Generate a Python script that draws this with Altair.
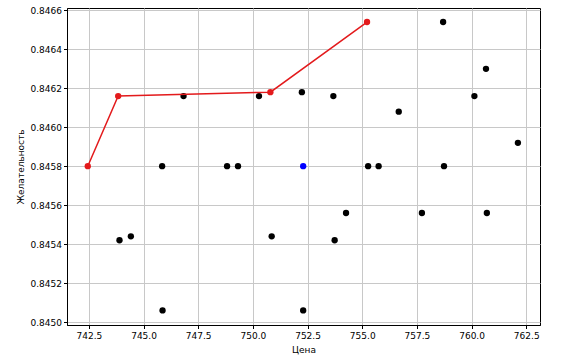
import altair as alt
import pandas as pd

# Black points
black_x = [745.85, 746.83, 748.82, 749.32, 750.28, 752.24, 753.68, 756.67, 758.70,
           760.66, 760.13, 762.12, 755.27, 755.75, 758.74, 743.90, 744.42, 745.87,
           750.86, 752.30, 754.26, 753.74, 757.73, 760.70]
black_y = [0.84580, 0.84616, 0.84580, 0.84580, 0.84616, 0.84618, 0.84616, 0.84608, 0.84654,
           0.84630, 0.84616, 0.84592, 0.84580, 0.84580, 0.84580, 0.84542, 0.84544, 0.84506,
           0.84544, 0.84506, 0.84556, 0.84542, 0.84556, 0.84556]

# Blue point
blue_x = [752.30]
blue_y = [0.84580]

# Red path (Pareto front)
red_x = [742.45, 743.84, 750.80, 755.22]
red_y = [0.84580, 0.84616, 0.84618, 0.84654]

x_ticks = [742.5, 745.0, 747.5, 750.0, 752.5, 755.0, 757.5, 760.0, 762.5]
y_ticks = [0.8450, 0.8452, 0.8454, 0.8456, 0.8458, 0.8460, 0.8462, 0.8464, 0.8466]

df_black = pd.DataFrame({"x": black_x, "y": black_y})
df_blue = pd.DataFrame({"x": blue_x, "y": blue_y})
df_red = pd.DataFrame({"x": red_x, "y": red_y, "o": list(range(len(red_x)))})

FONT = "DejaVu Sans"

xs = alt.Scale(domain=[741.5, 763.13], nice=False, zero=False)
ys = alt.Scale(domain=[0.844985, 0.846612], nice=False, zero=False)

xenc = alt.X("x:Q", scale=xs, title="Цена",
             axis=alt.Axis(values=x_ticks, format=".1f", labelFont=FONT, labelFontSize=9,
                           titleFont=FONT, titleFontSize=9, titleFontWeight="normal",
                           labelColor="black", titleColor="black",
                           tickSize=3.5, tickColor="black", domainColor="black",
                           gridColor="#c8c8c8", gridWidth=1, labelPadding=3,
                           titlePadding=5, labelFlush=False))
yenc = alt.Y("y:Q", scale=ys, title="Желательность",
             axis=alt.Axis(values=y_ticks, format=".4f", labelFont=FONT, labelFontSize=9,
                           titleFont=FONT, titleFontSize=9, titleFontWeight="normal",
                           labelColor="black", titleColor="black",
                           tickSize=3.5, tickColor="black", domainColor="black",
                           gridColor="#c8c8c8", gridWidth=1, labelPadding=2,
                           titlePadding=5, labelFlush=False))

black = alt.Chart(df_black).mark_circle(size=40, color="black", opacity=1).encode(x=xenc, y=yenc)
blue = alt.Chart(df_blue).mark_circle(size=40, color="blue", opacity=1).encode(x=xenc, y=yenc)
red_line = alt.Chart(df_red).mark_line(color="#e31a1c", strokeWidth=1.5).encode(x=xenc, y=yenc, order="o:O")
red_pts = alt.Chart(df_red).mark_circle(size=40, color="#e31a1c", opacity=1).encode(x=xenc, y=yenc)

chart = alt.layer(black, blue, red_line, red_pts).properties(
    width=473, height=317,
    autosize=alt.AutoSizeParams(type="none"),
    padding={"left": 67, "top": 8, "right": 23, "bottom": 33},
    background="white",
).configure_view(stroke="black", strokeWidth=1)

chart.save("out.html", embed_options={"renderer": "svg", "actions": False})
